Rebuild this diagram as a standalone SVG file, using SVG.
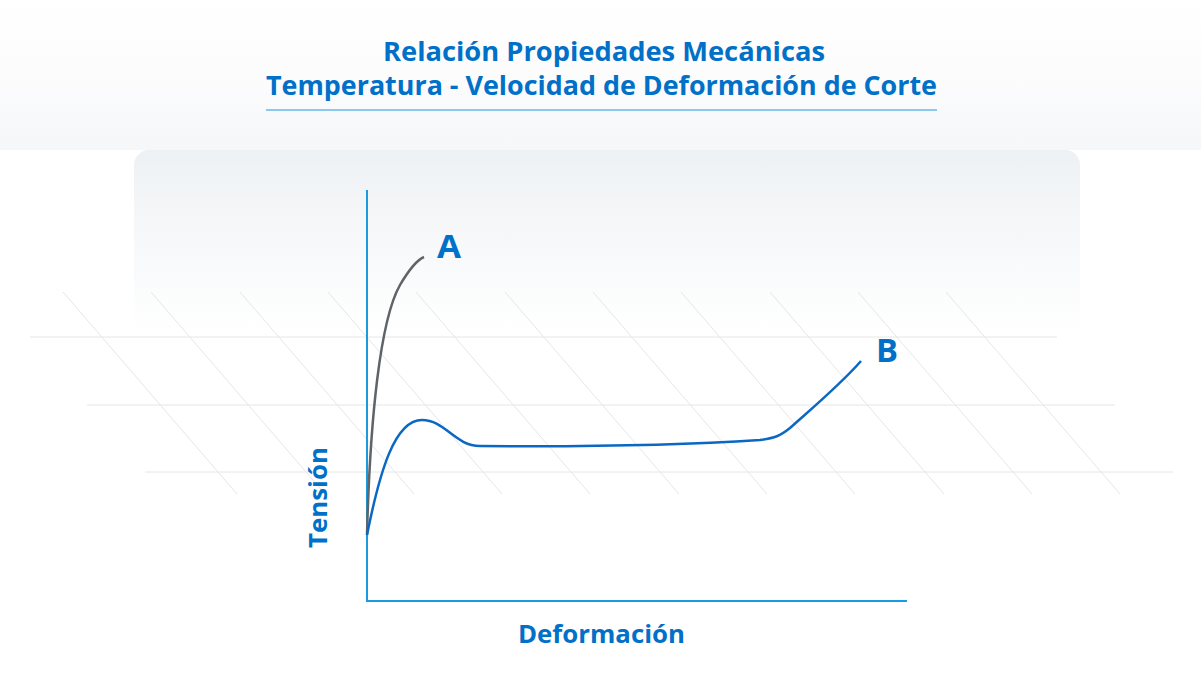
<svg xmlns="http://www.w3.org/2000/svg" width="1201" height="690" viewBox="0 0 1201 690">
<style>
.t{font-family:"Open Sans","Liberation Sans",sans-serif;font-weight:bold;fill:#0070c8}
.g{stroke:#e6e6e6;stroke-width:1;fill:none}
</style>
<defs>
<linearGradient id="bg" x1="0" y1="0" x2="0" y2="1"><stop offset="0" stop-color="#ffffff"/><stop offset="0.5" stop-color="#fcfcfd"/><stop offset="1" stop-color="#f6f7f9"/></linearGradient>
<linearGradient id="pn" x1="0" y1="0" x2="0" y2="1"><stop offset="0" stop-color="#eef1f4"/><stop offset="1" stop-color="#ffffff"/></linearGradient>
</defs>
<rect width="1201" height="690" fill="#fff"/>
<rect width="1201" height="150" fill="url(#bg)"/>
<path d="M134,330 V165 a15,15 0 0 1 15,-15 H1065 a15,15 0 0 1 15,15 V330 Z" fill="url(#pn)"/>
<g id="grid">
<path class="g" d="M30,337H1057M87,405H1115M145,472H1173"/>
<path class="g" d="M63,292l174,202M151,292l174,202M240,292l174,202M328,292l174,202M416,292l174,202M505,292l174,202M593,292l174,202M681,292l174,202M770,292l174,202M858,292l174,202M946,292l174,202"/>
</g>
<g id="title">
<text class="t" x="383" y="61" font-size="27" textLength="442" lengthAdjust="spacingAndGlyphs">Relación Propiedades Mecánicas</text>
<text class="t" x="266" y="95" font-size="27" textLength="671" lengthAdjust="spacingAndGlyphs">Temperatura - Velocidad de Deformación de Corte</text>
<line x1="266" y1="110" x2="937" y2="110" stroke="#1a9ae0" stroke-width="1"/>
</g>
<g id="axes" stroke="#1a9ae0" stroke-width="2" fill="none">
<path d="M367,190V601H907"/>
</g>
<g id="connectors" fill="none" stroke-width="2.5">
<path id="curveA" d="M367,535C370,420 380,320 400,285 C410,268 417,260 424,257" stroke="#5f6468"/>
<path id="curveB" d="M367,535C380,470 395,420 422,420 C445,420 455,446 480,446 C600,447 700,444 760,440 C775,438 780,436 790,428 C810,410 840,385 861,361" stroke="#0a68c4"/>
</g>
<g id="labels">
<text class="t" x="437" y="258" font-size="32" textLength="24" lengthAdjust="spacingAndGlyphs">A</text>
<text class="t" x="876" y="362" font-size="32" textLength="22" lengthAdjust="spacingAndGlyphs">B</text>
<text class="t" x="518" y="643" font-size="25" textLength="167" lengthAdjust="spacingAndGlyphs">Deformación</text>
<text class="t" font-size="25" textLength="101" lengthAdjust="spacingAndGlyphs" transform="translate(327,548) rotate(-90)">Tensión</text>
</g>
</svg>
